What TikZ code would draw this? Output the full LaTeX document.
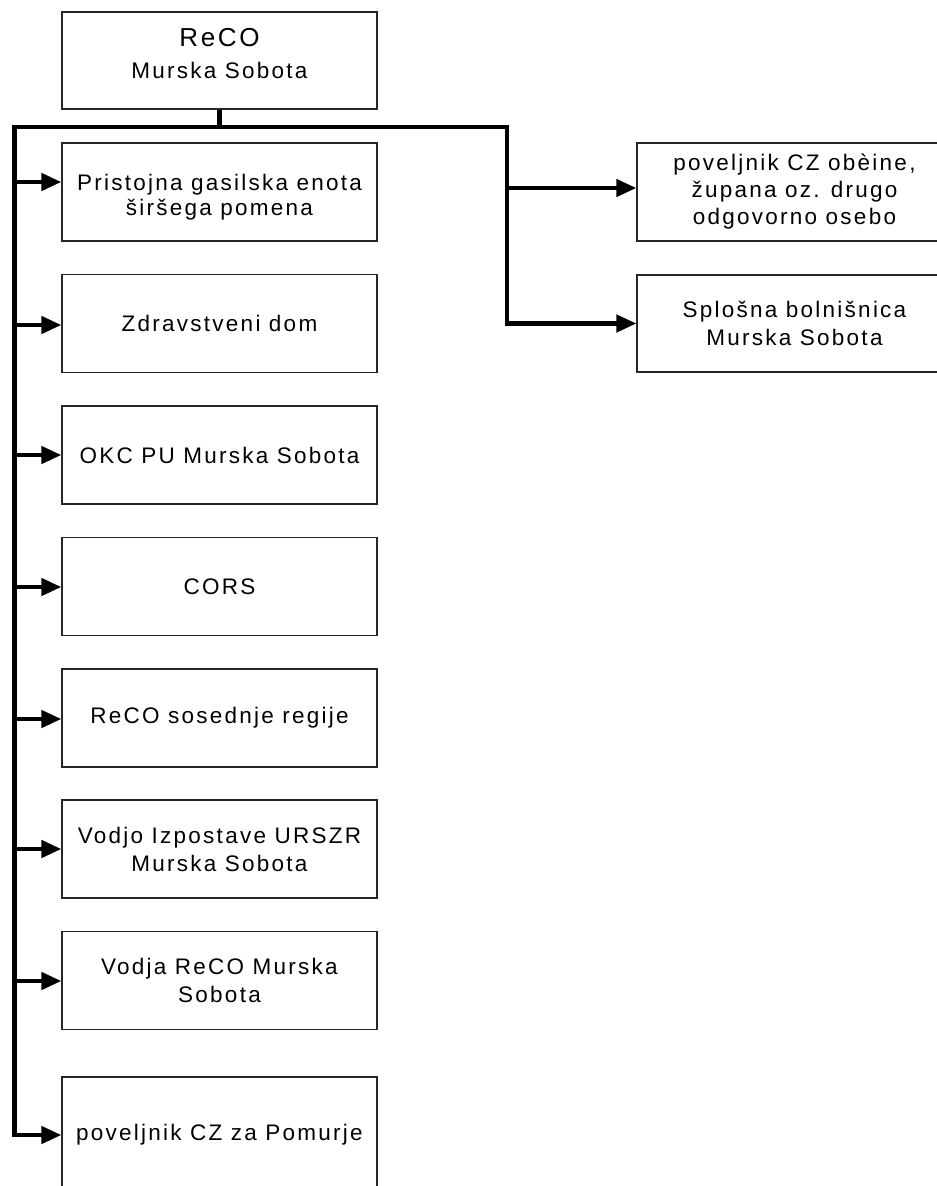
\documentclass[tikz,border=0pt]{standalone}
\usepackage{fontspec}
\setmainfont{Liberation Sans}[LetterSpace=10]
\usetikzlibrary{arrows.meta}
\begin{document}
\begin{tikzpicture}[x=1pt,y=-1pt,
  box/.style={draw=black!85, line width=1.2pt, minimum width=315pt, minimum height=98pt,
    inner sep=0pt, align=center, font=\fontsize{22.5}{28}\selectfont},
  txt/.style={inner sep=0pt, align=center},
  conn/.style={line width=4.5pt, line join=miter},
  tip/.tip={Triangle[length=20pt,width=17pt]},
  arr/.style={conn, -tip}]
\clip (0,0) rectangle (937,1186);
% top box
\node[box, minimum height=97pt] (top) at (219.5,60.5) {};
\node[txt, font=\fontsize{22.5}{32}\selectfont] (topt) at (219.5,54)
  {{\fontsize{26}{32}\selectfont ReCO}\\Murska Sobota};
% left column
\node[box] (b1) at (219.5,192) {};
\node[txt, font=\fontsize{22.5}{25}\selectfont] (b1t) at (219.5,197) {Pristojna gasilska enota\\širšega pomena};
\node[box] (b2) at (219.5,323.5) {Zdravstveni dom};
\node[box] (b3) at (219.5,455) {OKC PU Murska Sobota};
\node[box] (b4) at (219.5,586.5) {CORS};
\node[box] (b5) at (219.5,718) {ReCO sosednje regije};
\node[box] (b6) at (219.5,849) {Vodjo Izpostave URSZR\\Murska Sobota};
\node[box] (b7) at (219.5,980.5) {Vodja ReCO Murska\\Sobota};
\node[box, minimum height=116pt] (b8) at (219.5,1135) {poveljnik CZ za Pomurje};
% right column
\node[box, minimum height=98pt, font=\fontsize{22.5}{27}\selectfont] (r1) at (794.5,192) {poveljnik CZ obèine,\\župana oz. drugo\\odgovorno osebo};
\node[box, minimum height=97pt] (r2) at (794.5,323.5) {Splošna bolnišnica\\Murska Sobota};
% connectors
\coordinate (jt) at (219.5,127);
\coordinate (bl) at (14.5,127);
\coordinate (br) at (507,127);
\coordinate (lend) at (14.5,1135);
\coordinate (rend) at (507,323.5);
\draw[conn] (top.south) -- (jt);
\draw[conn, tip-tip] (b8.west) -- (lend) -- (bl) -- (br) -- (rend) -- (r2.west);
\coordinate (a1) at (14.5,182);
\coordinate (a2) at (14.5,325);
\coordinate (a3) at (14.5,455);
\coordinate (a4) at (14.5,587);
\coordinate (a5) at (14.5,719);
\coordinate (a6) at (14.5,849);
\coordinate (a7) at (14.5,981);
\coordinate (ra) at (507,188);
\draw[arr] (a1) -- (a1 -| b1.west);
\draw[arr] (a2) -- (a2 -| b2.west);
\draw[arr] (a3) -- (a3 -| b3.west);
\draw[arr] (a4) -- (a4 -| b4.west);
\draw[arr] (a5) -- (a5 -| b5.west);
\draw[arr] (a6) -- (a6 -| b6.west);
\draw[arr] (a7) -- (a7 -| b7.west);
\draw[arr] (ra) -- (ra -| r1.west);
\end{tikzpicture}
\end{document}
